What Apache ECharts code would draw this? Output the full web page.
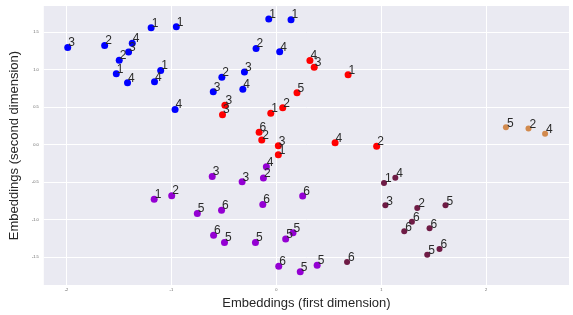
<!DOCTYPE html>
<html>
<head>
<meta charset="utf-8">
<script src="https://cdn.jsdelivr.net/npm/echarts@6/dist/echarts.min.js"></script>
<style>
  html, body { margin: 0; padding: 0; background: #fff; }
  #main { width: 573px; height: 315px; }
</style>
</head>
<body>
<div id="main"></div>
<script>
// points: [x, y, label]
var bluePts = [
    [-1.988, 1.296, '3'], [-1.636, 1.322, '2'], [-1.373, 1.353, '4'], [-1.408, 1.236, '3'],
    [-1.497, 1.127, '2'], [-1.525, 0.945, '1'], [-1.418, 0.825, '4'], [-1.193, 1.561, '1'],
    [-0.953, 1.574, '1'], [-1.102, 0.990, '1'], [-1.161, 0.838, '4'], [-0.965, 0.470, '4'],
    [-0.072, 1.678, '1'], [0.140, 1.669, '1'], [-0.193, 1.283, '2'], [0.032, 1.240, '4'],
    [-0.519, 0.899, '2'], [-0.304, 0.968, '3'], [-0.601, 0.704, '3'], [-0.319, 0.738, '4']
];
var redPts = [
    [0.320, 1.123, '4'], [0.361, 1.032, '3'], [0.684, 0.932, '1'], [0.197, 0.691, '5'],
    [-0.490, 0.526, '3'], [-0.513, 0.400, '3'], [-0.053, 0.418, '1'], [0.061, 0.491, '2'],
    [-0.164, 0.166, '6'], [-0.139, 0.062, '2'], [0.019, -0.016, '3'], [0.019, -0.136, '1'],
    [0.560, 0.023, '4'], [0.956, -0.023, '2']
];
var tanPts = [
    [2.188, 0.231, '5'], [2.403, 0.214, '2'], [2.561, 0.145, '4']
];
var purplePts = [
    [-0.095, -0.296, '4'], [-0.611, -0.426, '3'], [-0.326, -0.496, '3'], [-0.123, -0.448, '2'],
    [0.251, -0.686, '6'], [-0.129, -0.799, '6'], [-0.522, -0.877, '6'], [-0.753, -0.919, '5'],
    [-0.598, -1.210, '6'], [-0.494, -1.309, '5'], [-0.199, -1.309, '5'], [0.089, -1.262, '5'],
    [0.159, -1.179, '5'], [0.023, -1.626, '6'], [0.228, -1.699, '5'], [0.389, -1.613, '5'],
    [-1.164, -0.730, '1'], [-0.997, -0.682, '2']
];
var maroonPts = [
    [0.674, -1.569, '6'], [1.026, -0.513, '1'], [1.134, -0.444, '4'], [1.039, -0.812, '3'],
    [1.343, -0.847, '2'], [1.612, -0.812, '5'], [1.292, -1.032, '6'], [1.219, -1.158, '6'],
    [1.460, -1.119, '6'], [1.555, -1.396, '6'], [1.438, -1.470, '5']
];

var xTicks = [-2, -1, 0, 1, 2];
var yTicks = [-1.5, -1.0, -0.5, 0.0, 0.5, 1.0, 1.5];

function makeSeries(pts, color, size) {
    return {
        type: 'scatter',
        data: pts,
        symbolSize: size,
        itemStyle: { color: color, opacity: 1 },
        label: {
            show: true,
            position: [4, -7],
            align: 'left',
            verticalAlign: 'top',
            fontFamily: 'Liberation Sans',
            fontSize: 12,
            color: '#2a2a2a',
            formatter: function (p) { return p.value[2]; }
        }
    };
}

var myChart = echarts.init(document.getElementById('main'));

var option = {
    animation: false,
    grid: {
        left: 42, right: 4, top: 6, bottom: 22,
        show: true,
        backgroundColor: '#EAEAF2',
        borderWidth: 0
    },
    xAxis: {
        type: 'value',
        min: -2.216, max: 2.789,
        name: 'Embeddings (first dimension)',
        nameLocation: 'middle',
        nameGap: 9,
        nameTextStyle: { fontFamily: 'Liberation Sans', fontSize: 13, color: '#262626' },
        axisLine: { show: false },
        axisTick: { show: false, customValues: xTicks },
        axisLabel: {
            customValues: xTicks,
            fontSize: 4, color: '#666', margin: 3,
            formatter: function (v) { return String(v); }
        },
        splitLine: { show: true, lineStyle: { color: '#fff', width: 1 } }
    },
    yAxis: {
        type: 'value',
        min: -1.877, max: 1.851,
        name: 'Embeddings (second dimension)',
        nameLocation: 'middle',
        nameGap: 16,
        nameTextStyle: { fontFamily: 'Liberation Sans', fontSize: 13, color: '#262626' },
        axisLine: { show: false },
        axisTick: { show: false, customValues: yTicks },
        axisLabel: {
            customValues: yTicks,
            fontSize: 4, color: '#666', margin: 5,
            formatter: function (v) { return v.toFixed(1); }
        },
        splitLine: { show: true, lineStyle: { color: '#fff', width: 1 } }
    },
    series: [
        makeSeries(bluePts, '#0000FF', 7),
        makeSeries(redPts, '#FF0000', 7),
        makeSeries(tanPts, '#D28A4E', 6),
        makeSeries(purplePts, '#9400D3', 7),
        makeSeries(maroonPts, '#6E1B45', 6)
    ]
};

myChart.setOption(option);
</script>
</body>
</html>
